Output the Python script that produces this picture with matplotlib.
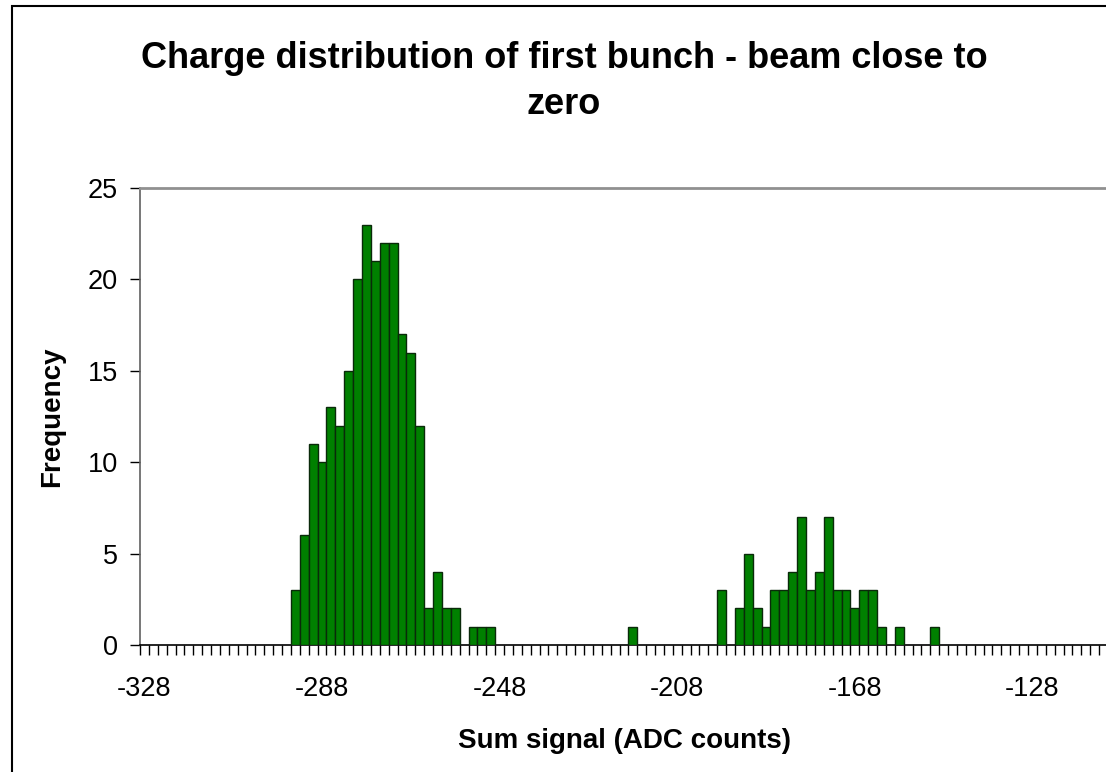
import matplotlib
matplotlib.use("Agg")
import matplotlib.pyplot as plt
import numpy as np
from matplotlib.patches import Rectangle

# category labels of the histogram (ADC counts, step 2)
categories = list(range(-328, -110, 2))

# bins that have entries and their frequency
bin_values = [
    -294, -292, -290, -288, -286, -284, -282, -280, -278, -276, -274, -272,
    -270, -268, -266, -264, -262, -260, -258, -254, -252, -250,
    -218,
    -198, -194, -192, -190, -188, -186, -184, -182, -180, -178, -176, -174,
    -172, -170, -168, -166, -164, -162, -158, -150,
]
frequency = [
    3, 6, 11, 10, 13, 12, 15, 20, 23, 21, 22, 22,
    17, 16, 12, 2, 4, 2, 2, 1, 1, 1,
    1,
    3, 2, 5, 2, 1, 3, 3, 4, 7, 3, 4, 7,
    3, 3, 2, 3, 3, 1, 1, 1,
]
tick_labels = [-328, -288, -248, -208, -168, -128]
y_ticks = [0, 5, 10, 15, 20, 25]

plt.rcParams["font.family"] = ["Liberation Sans", "DejaVu Sans"]

W, H = 1106, 772
fig = plt.figure(figsize=(W / 100, H / 100), dpi=100)
fig.patch.set_facecolor("white")

# chart area border (only left/top visible in the picture)
fig.patches.append(
    Rectangle((12 / W, -0.2), 1.3, 1.2 - 6 / H, transform=fig.transFigure,
              fill=False, edgecolor="black", linewidth=1.5)
)

left, right, top, bottom = 140, 1110, 188, 645
ax = fig.add_axes([left / W, 1 - bottom / H, (right - left) / W, (bottom - top) / H])

ax.bar(bin_values, frequency, width=2, align="center",
       color="#008000", edgecolor="#0a2a0a", linewidth=1.0, zorder=3)

px_per_unit = 8.88 / 2
ax.set_xlim(-329, -329 + (right - left) / px_per_unit)
ax.set_ylim(0, 25)

# labels at category centres, tick marks at category boundaries
ax.set_xticks(tick_labels)
ax.set_xticklabels([str(t) for t in tick_labels])
ax.set_xticks(np.array(categories) - 1, minor=True)
ax.tick_params(axis="x", which="major", length=0, pad=22, labelsize=19.5)
ax.tick_params(axis="x", which="minor", length=7, width=1, color="black",
               direction="out")

ax.set_yticks(y_ticks)
ax.tick_params(axis="y", which="major", length=7, width=1, pad=9,
               labelsize=19.5, direction="out")

ax.spines["right"].set_visible(False)
ax.spines["top"].set_color("#909090")
ax.spines["top"].set_linewidth(2)
ax.spines["left"].set_color("#606060")
ax.spines["bottom"].set_color("black")
ax.spines["left"].set_linewidth(1.2)
ax.spines["bottom"].set_linewidth(1.2)

ax.set_xlabel("Sum signal (ADC counts)", fontsize=20, fontweight="bold",
              labelpad=19)
ax.set_ylabel("Frequency", fontsize=20, fontweight="bold", labelpad=16)

fig.text(564 / W, 1 - 41 / H,
         "Charge distribution of first bunch - beam close to\nzero",
         ha="center", va="top", fontsize=26, fontweight="bold",
         linespacing=1.42)

fig.savefig("out.png", dpi=100)
